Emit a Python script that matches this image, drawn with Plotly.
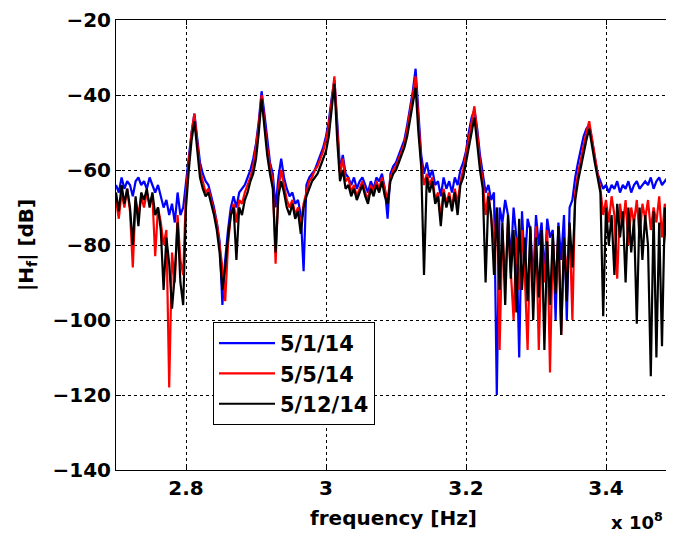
import numpy as np
import plotly.graph_objects as go

# frequency axis (Hz): uniform sweep 270 MHz .. 350 MHz, 201 samples
freq_hz = np.linspace(2.7e8, 3.5e8, 201)

series_names = ["5/1/14", "5/5/14", "5/12/14"]
series_colors = ["#0000ff", "#ff0000", "#000000"]

# |H_f| in dB
h_0501 = [
    -64, -66, -62, -65, -63, -64, -67, -63, -62, -64,
    -63, -65, -62, -64, -66, -64, -67, -70, -68, -72,
    -69, -74, -66, -72, -70, -63, -57, -50, -45, -51,
    -58, -61, -63, -64, -67, -70, -74, -79, -96, -84,
    -76, -70, -67, -70, -66, -65, -64, -62, -60, -57,
    -53, -47, -39, -45, -52, -58, -61, -70, -62, -57,
    -62, -65, -67, -66, -69, -68, -72, -87, -64, -62,
    -61, -60, -58, -56, -54, -51, -47, -41, -36, -47,
    -60, -56, -61, -62, -64, -62, -65, -63, -62, -64,
    -66, -63, -65, -62, -63, -61, -65, -73, -61, -59,
    -58, -56, -54, -52, -48, -44, -39, -33, -46, -56,
    -61, -58, -62, -60, -64, -63, -67, -62, -65, -63,
    -66, -62, -64, -60, -58, -55, -50, -46, -44, -49,
    -56, -61, -66, -64, -68, -66, -120, -70, -74, -68,
    -72, -84, -70, -78, -110, -71, -86, -73, -76, -90,
    -72, -80, -74, -88, -73, -78, -76, -100, -74, -84,
    -72, -100, -70, -68, -62, -58, -54, -51, -49, -48,
    -52, -57, -61, -63, -65, -64, -66, -64, -65, -63,
    -66, -64, -65, -63, -66, -64, -63, -65, -64, -63,
    -64, -62, -65, -63, -62, -64, -63, -62, -64, -63,
    -63,
]

h_0505 = [
    -68, -73, -66, -70, -65, -71, -86, -68, -72, -67,
    -70, -66, -69, -67, -83, -70, -74, -80, -76, -118,
    -82, -90, -72, -84, -88, -66, -58, -50, -45, -53,
    -60, -63, -66, -65, -68, -71, -74, -80, -86, -95,
    -80, -72, -69, -74, -68, -69, -66, -64, -62, -59,
    -54, -48, -40, -47, -54, -59, -63, -85, -65, -60,
    -64, -68, -70, -68, -72, -70, -75, -69, -66, -63,
    -62, -60, -59, -57, -55, -52, -48, -42, -35, -49,
    -61, -57, -63, -62, -66, -64, -67, -65, -63, -66,
    -68, -64, -66, -63, -65, -62, -65, -68, -62, -60,
    -59, -57, -55, -53, -49, -45, -40, -35, -48, -58,
    -64, -61, -64, -62, -68, -66, -73, -65, -69, -66,
    -70, -65, -69, -63, -60, -56, -52, -47, -43, -50,
    -58, -63, -72, -66, -74, -80, -70, -108, -76, -90,
    -74, -86, -100, -78, -92, -76, -88, -108, -77, -94,
    -75, -108, -80, -90, -76, -114, -78, -92, -77, -104,
    -80, -88, -75, -100, -66, -61, -57, -53, -50, -47,
    -52, -56, -61, -65, -72, -68, -74, -67, -72, -89,
    -69, -75, -68, -80, -70, -74, -68, -78, -69, -73,
    -68, -76, -70, -74, -67, -78, -69, -73, -68, -75,
    -70,
]

h_0512 = [
    -66, -71, -64, -69, -65, -70, -80, -67, -75, -66,
    -68, -65, -70, -66, -72, -70, -76, -92, -78, -85,
    -97, -88, -74, -90, -96, -70, -60, -52, -47, -55,
    -62, -65, -67, -66, -69, -72, -76, -82, -92, -86,
    -78, -72, -70, -84, -70, -72, -68, -66, -63, -61,
    -57, -50, -41, -49, -56, -61, -65, -82, -67, -63,
    -66, -70, -72, -69, -73, -71, -77, -70, -67, -65,
    -63, -62, -61, -59, -57, -55, -51, -44, -37, -52,
    -63, -60, -65, -64, -67, -65, -68, -66, -64, -67,
    -69, -65, -67, -64, -66, -63, -67, -69, -63, -61,
    -60, -58, -56, -54, -51, -47, -43, -38, -50, -59,
    -88, -62, -66, -63, -69, -67, -75, -66, -70, -67,
    -71, -66, -72, -64, -62, -58, -54, -49, -46, -53,
    -60, -65, -90, -67, -72, -88, -70, -92, -74, -96,
    -72, -89, -76, -98, -73, -92, -78, -95, -75, -100,
    -78, -94, -76, -108, -79, -96, -77, -93, -75, -104,
    -78, -95, -74, -86, -68, -63, -59, -55, -52, -49,
    -54, -58, -62, -66, -99, -70, -80, -72, -88, -69,
    -78, -71, -90, -70, -82, -73, -101, -70, -84, -72,
    -80, -115, -71, -110, -74, -107, -70, -82, -72, -108,
    -74,
]

x_tick_vals = [2.8e8, 3.0e8, 3.2e8, 3.4e8]
x_tick_text = ["2.8", "3", "3.2", "3.4"]
y_tick_vals = [-140, -120, -100, -80, -60, -40, -20]

FONT = "DejaVu Sans"
FS = 20

fig = go.Figure()
for name, color, vals in zip(series_names, series_colors, [h_0501, h_0505, h_0512]):
    fig.add_trace(go.Scatter(
        x=freq_hz[:len(vals)], y=vals, mode="lines", name=name,
        line=dict(color=color, width=2.2),
    ))

# the page has an 8px body margin; figure is sized to fill the rest
OFF = 8
W, H = 674 - OFF, 535 - OFF
ml, mr, mt, mb = 116 - OFF, 0, 17 - OFF, 535 - 470
pw = W - ml - mr
ph = H - mt - mb
plot_bottom = mt + ph  # in figure px


def px_x(page_x):
    return (page_x - OFF - ml) / pw


def px_y(page_y):
    return (plot_bottom - (page_y - OFF)) / ph


fig.update_layout(
    width=W, height=H,
    margin=dict(l=ml, r=mr, t=mt, b=mb),
    paper_bgcolor="white", plot_bgcolor="white",
    font=dict(family=FONT, size=FS, color="black"),
    showlegend=True,
    legend=dict(
        x=px_x(213), y=px_y(321),
        xanchor="left", yanchor="top",
        bgcolor="white", bordercolor="black", borderwidth=1,
        font=dict(family=FONT, size=21, color="black", weight="bold"),
        tracegroupgap=0, itemwidth=56,
    ),
)

fig.update_xaxes(
    range=[2.7e8, 2.7e8 + 0.2e8 * pw / 140],
    tickvals=x_tick_vals, ticktext=x_tick_text,
    tickfont=dict(family=FONT, size=FS, color="black", weight="bold"),
    ticks="inside", ticklen=5, tickcolor="black",
    showline=True, linecolor="black", linewidth=1, mirror="ticks",
    showgrid=True, gridcolor="black", gridwidth=1, griddash="dot",
    zeroline=False, ticklabeloverflow="allow",
)
fig.update_yaxes(
    range=[-140, -20],
    tickvals=y_tick_vals,
    tickfont=dict(family=FONT, size=FS, color="black", weight="bold"),
    ticks="inside", ticklen=5, tickcolor="black",
    showline=True, linecolor="black", linewidth=1, mirror=False,
    showgrid=True, gridcolor="black", gridwidth=1, griddash="dot",
    zeroline=False, ticklabeloverflow="allow",
)

fig.add_annotation(
    text="frequency [Hz]", xref="paper", yref="paper",
    x=px_x(393), y=px_y(518),
    xanchor="center", yanchor="middle", showarrow=False,
    font=dict(family=FONT, size=FS, color="black", weight="bold"),
)
fig.add_annotation(
    text="|H<sub>f</sub>| [dB]", xref="paper", yref="paper",
    x=px_x(27), y=0.5, textangle=-90,
    xanchor="center", yanchor="middle", showarrow=False,
    font=dict(family=FONT, size=FS, color="black", weight="bold"),
)
fig.add_annotation(
    text="x 10<sup>8</sup>", xref="paper", yref="paper",
    x=px_x(637), y=px_y(521),
    xanchor="center", yanchor="middle", showarrow=False,
    font=dict(family=FONT, size=18, color="black", weight="bold"),
)

fig.write_html("out.html")
